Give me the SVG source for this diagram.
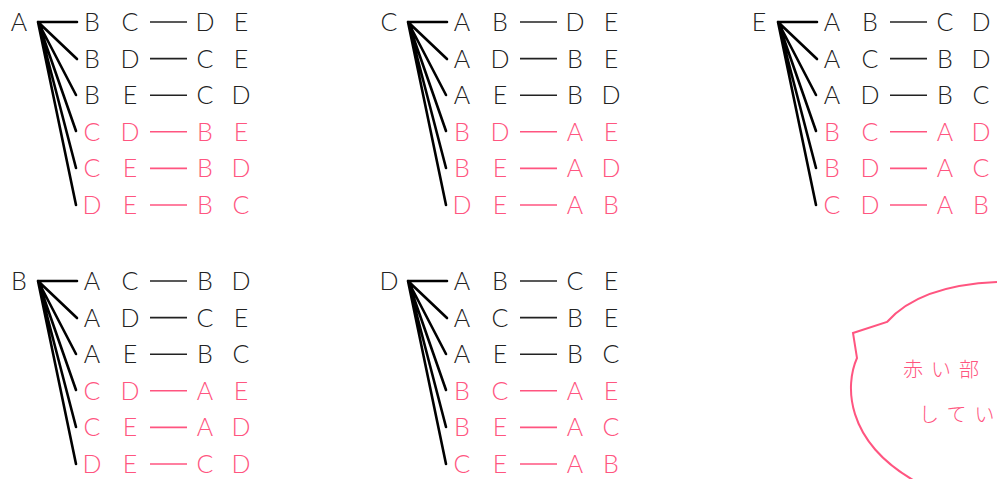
<svg xmlns="http://www.w3.org/2000/svg" width="997" height="479" viewBox="0 0 997 479">
<style>
text{font-family:Lato,"Noto Sans CJK JP",sans-serif;font-weight:300;font-size:25px;text-anchor:middle}
.k{fill:#222}
.r{fill:#ff5580}
.fan{stroke:#000;stroke-width:2.6;fill:none;stroke-linecap:round}
.dash{stroke:#222;stroke-width:1.6}
.dr{stroke:#ff5580;stroke-width:1.6}
.jp{font-family:"Noto Sans CJK JP",sans-serif;font-size:20px;fill:#ff5580;text-anchor:start;letter-spacing:8px}
</style>
<defs>
<g id="fanlines" class="fan">
<path d="M38 22 L77 22 M38 22 L77 59 M38 22 L76 95 M38 22 L76 131 M38 22 L76 168 M38 22 L76 205"/>
</g>
<g id="dashes">
<line class="dash" x1="150" y1="22" x2="187" y2="22"/>
<line class="dash" x1="150" y1="58.6" x2="187" y2="58.6"/>
<line class="dash" x1="150" y1="95.2" x2="187" y2="95.2"/>
<line class="dr" x1="150" y1="131.8" x2="187" y2="131.8"/>
<line class="dr" x1="150" y1="168.4" x2="187" y2="168.4"/>
<line class="dr" x1="150" y1="205" x2="187" y2="205"/>
</g>
</defs>
<g id="connectors">
<use href="#fanlines"/><use href="#dashes"/>
<use href="#fanlines" x="370"/><use href="#dashes" x="370"/>
<use href="#fanlines" x="740"/><use href="#dashes" x="740"/>
<use href="#fanlines" y="259"/><use href="#dashes" y="259"/>
<use href="#fanlines" x="370" y="259"/><use href="#dashes" x="370" y="259"/>
</g>
<g id="node-A">
<text class="k" x="19" y="31">A</text>
<text class="k" y="31"><tspan x="92">B</tspan><tspan x="130">C</tspan><tspan x="205">D</tspan><tspan x="241">E</tspan></text>
<text class="k" y="67.6"><tspan x="92">B</tspan><tspan x="130">D</tspan><tspan x="205">C</tspan><tspan x="241">E</tspan></text>
<text class="k" y="104.2"><tspan x="92">B</tspan><tspan x="130">E</tspan><tspan x="205">C</tspan><tspan x="241">D</tspan></text>
<text class="r" y="140.8"><tspan x="92">C</tspan><tspan x="130">D</tspan><tspan x="205">B</tspan><tspan x="241">E</tspan></text>
<text class="r" y="177.4"><tspan x="92">C</tspan><tspan x="130">E</tspan><tspan x="205">B</tspan><tspan x="241">D</tspan></text>
<text class="r" y="214"><tspan x="92">D</tspan><tspan x="130">E</tspan><tspan x="205">B</tspan><tspan x="241">C</tspan></text>
</g>
<g id="node-C" transform="translate(370,0)">
<text class="k" x="19" y="31">C</text>
<text class="k" y="31"><tspan x="92">A</tspan><tspan x="130">B</tspan><tspan x="205">D</tspan><tspan x="241">E</tspan></text>
<text class="k" y="67.6"><tspan x="92">A</tspan><tspan x="130">D</tspan><tspan x="205">B</tspan><tspan x="241">E</tspan></text>
<text class="k" y="104.2"><tspan x="92">A</tspan><tspan x="130">E</tspan><tspan x="205">B</tspan><tspan x="241">D</tspan></text>
<text class="r" y="140.8"><tspan x="92">B</tspan><tspan x="130">D</tspan><tspan x="205">A</tspan><tspan x="241">E</tspan></text>
<text class="r" y="177.4"><tspan x="92">B</tspan><tspan x="130">E</tspan><tspan x="205">A</tspan><tspan x="241">D</tspan></text>
<text class="r" y="214"><tspan x="92">D</tspan><tspan x="130">E</tspan><tspan x="205">A</tspan><tspan x="241">B</tspan></text>
</g>
<g id="node-E" transform="translate(740,0)">
<text class="k" x="19" y="31">E</text>
<text class="k" y="31"><tspan x="92">A</tspan><tspan x="130">B</tspan><tspan x="205">C</tspan><tspan x="241">D</tspan></text>
<text class="k" y="67.6"><tspan x="92">A</tspan><tspan x="130">C</tspan><tspan x="205">B</tspan><tspan x="241">D</tspan></text>
<text class="k" y="104.2"><tspan x="92">A</tspan><tspan x="130">D</tspan><tspan x="205">B</tspan><tspan x="241">C</tspan></text>
<text class="r" y="140.8"><tspan x="92">B</tspan><tspan x="130">C</tspan><tspan x="205">A</tspan><tspan x="241">D</tspan></text>
<text class="r" y="177.4"><tspan x="92">B</tspan><tspan x="130">D</tspan><tspan x="205">A</tspan><tspan x="241">C</tspan></text>
<text class="r" y="214"><tspan x="92">C</tspan><tspan x="130">D</tspan><tspan x="205">A</tspan><tspan x="241">B</tspan></text>
</g>
<g id="node-B" transform="translate(0,259)">
<text class="k" x="19" y="31">B</text>
<text class="k" y="31"><tspan x="92">A</tspan><tspan x="130">C</tspan><tspan x="205">B</tspan><tspan x="241">D</tspan></text>
<text class="k" y="67.6"><tspan x="92">A</tspan><tspan x="130">D</tspan><tspan x="205">C</tspan><tspan x="241">E</tspan></text>
<text class="k" y="104.2"><tspan x="92">A</tspan><tspan x="130">E</tspan><tspan x="205">B</tspan><tspan x="241">C</tspan></text>
<text class="r" y="140.8"><tspan x="92">C</tspan><tspan x="130">D</tspan><tspan x="205">A</tspan><tspan x="241">E</tspan></text>
<text class="r" y="177.4"><tspan x="92">C</tspan><tspan x="130">E</tspan><tspan x="205">A</tspan><tspan x="241">D</tspan></text>
<text class="r" y="214"><tspan x="92">D</tspan><tspan x="130">E</tspan><tspan x="205">C</tspan><tspan x="241">D</tspan></text>
</g>
<g id="node-D" transform="translate(370,259)">
<text class="k" x="19" y="31">D</text>
<text class="k" y="31"><tspan x="92">A</tspan><tspan x="130">B</tspan><tspan x="205">C</tspan><tspan x="241">E</tspan></text>
<text class="k" y="67.6"><tspan x="92">A</tspan><tspan x="130">C</tspan><tspan x="205">B</tspan><tspan x="241">E</tspan></text>
<text class="k" y="104.2"><tspan x="92">A</tspan><tspan x="130">E</tspan><tspan x="205">B</tspan><tspan x="241">C</tspan></text>
<text class="r" y="140.8"><tspan x="92">B</tspan><tspan x="130">C</tspan><tspan x="205">A</tspan><tspan x="241">E</tspan></text>
<text class="r" y="177.4"><tspan x="92">B</tspan><tspan x="130">E</tspan><tspan x="205">A</tspan><tspan x="241">C</tspan></text>
<text class="r" y="214"><tspan x="92">C</tspan><tspan x="130">E</tspan><tspan x="205">A</tspan><tspan x="241">B</tspan></text>
</g>
<g id="bubble">
<path d="M997 282 C950 284 910 296 887 322 L853 333 L857 358 C845 385 845 440 913 480" fill="none" stroke="#ff5580" stroke-width="2"/>
<text class="jp" x="903" y="377">赤い部</text>
<text class="jp" x="919" y="422">してい</text>
</g>
</svg>
